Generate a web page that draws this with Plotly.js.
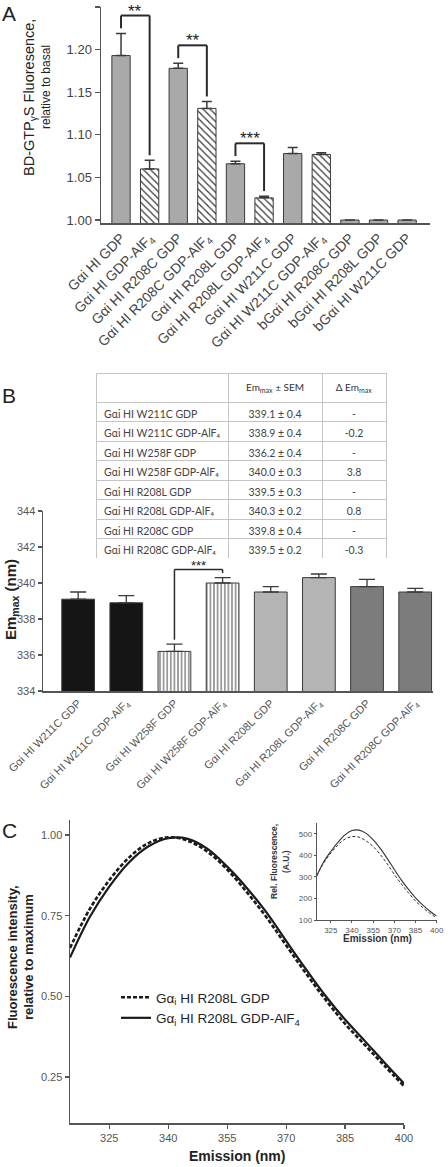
<!DOCTYPE html>
<html><head><meta charset="utf-8">
<script src="https://cdn.plot.ly/plotly-3.0.1.min.js"></script>
<style>html,body{margin:0;padding:0;background:#fff}#chart{width:448px;height:1167px}</style>
</head><body><div id="chart"></div>
<script>
// ---------- Panel A data ----------
const catsA = ['Gαi HI GDP','Gαi HI GDP-AlF<sub>4</sub>','Gαi HI R208C GDP','Gαi HI R208C GDP-AlF<sub>4</sub>',
  'Gαi HI R208L GDP','Gαi HI R208L GDP-AlF<sub>4</sub>','Gαi HI W211C GDP','Gαi HI W211C GDP-AlF<sub>4</sub>',
  'bGαi HI R208C GDP','bGαi HI R208L GDP','bGαi HI W211C GDP'];
const valsA = [1.193,1.060,1.178,1.131,1.066,1.026,1.078,1.077,1.000,1.000,1.000];
const errA  = [0.026,0.010,0.006,0.008,0.003,0.002,0.007,0.002,0,0,0];
const hatchA = [false,true,false,true,false,true,false,true,false,false,false];
const sigA = [[0,1,'**'],[2,3,'**'],[4,5,'***']];
const yTicksA = [1.00,1.05,1.10,1.15,1.20,1.25];

// ---------- Panel B data ----------
const catsB = ['Gαi HI W211C GDP','Gαi HI W211C GDP-AlF<sub>4</sub>','Gαi HI W258F GDP','Gαi HI W258F GDP-AlF<sub>4</sub>',
  'Gαi HI R208L GDP','Gαi HI R208L GDP-AlF<sub>4</sub>','Gαi HI R208C GDP','Gαi HI R208C GDP-AlF<sub>4</sub>'];
const valsB = [339.1,338.9,336.2,340.0,339.5,340.3,339.8,339.5];
const errB  = [0.4,0.4,0.4,0.3,0.3,0.2,0.4,0.2];
const deltaB = ['-','-0.2','-','3.8','-','0.8','-','-0.3'];
const colorsB = ['#151515','#151515','#4a4a4a','#4a4a4a','#b4b4b4','#b4b4b4','#7c7c7c','#7c7c7c'];
const stripeB = [false,false,true,true,false,false,false,false];
const sigB = [[2,3,'***']];
const yTicksB = [334,336,338,340,342,344];

// ---------- Panel C data ----------
const wl = [315,320,325,330,335,340,345,350,355,360,365,370,375,380,385,390,395,400];
const normGDP  = [0.650,0.770,0.860,0.930,0.975,0.993,0.982,0.948,0.893,0.823,0.745,0.658,0.572,0.490,0.415,0.350,0.285,0.222];
const normAlF4 = [0.620,0.745,0.840,0.915,0.965,0.990,0.988,0.957,0.902,0.836,0.760,0.672,0.585,0.502,0.428,0.362,0.295,0.230];
const insetGDP  = [303,365,410,448,475,487,484,467,441,404,360,311,267,226,188,158,132,110];
const insetAlF4 = [305,370,418,460,495,515,517,502,472,432,385,334,285,242,203,170,142,118];
const xTicksC = [325,340,355,370,385,400];
const yTicksC = [0.25,0.50,0.75,1.00];
const yTicksInset = [100,200,300,400,500];

const FONT = 'Arial, "Liberation Sans", sans-serif';
const AX = '#555';
const TXT = '#444';
const W = 448, H = 1167;
const px = v => v / W, py = v => 1 - v / H;

const traces = [];
const shapes = [];
const annotations = [];

// Panel A bars (for patterned bars marker.color is the stripe colour)
traces.push({
  type:'bar', x:catsA, y:valsA, xaxis:'x', yaxis:'y', width:0.64, showlegend:false,
  marker:{
    color: hatchA.map(h => h ? '#3a3a3a' : '#a9a9a9'),
    line:{color:'#3a3a3a', width:1},
    pattern:{shape: hatchA.map(h => h ? '\\' : ''), size:5, solidity:0.25, fillmode:'replace'}
  },
  error_y:{type:'data', symmetric:false, array:errA, arrayminus:errA.map(()=>0), color:'#3a3a3a', thickness:1.5, width:5}
});

// Panel B bars
traces.push({
  type:'bar', x:catsB, y:valsB, xaxis:'x2', yaxis:'y2', width:0.68, showlegend:false,
  marker:{
    color: colorsB,
    line:{color:'#3a3a3a', width:1},
    pattern:{shape: stripeB.map(s => s ? '|' : ''), size:3.6, solidity:0.28, fillmode:'replace'}
  },
  error_y:{type:'data', symmetric:false, array:errB, arrayminus:errB.map(()=>0), color:'#3a3a3a', thickness:1.3, width:8}
});

// Table in panel B (non-breaking spaces, unicode subscript so rows keep one height)
const nb = s => s.replace(/<sub>4<\/sub>/g, '\u2084').replace(/ /g, '\u00a0');
traces.push({
  type:'table',
  domain:{x:[px(96), px(386)], y:[py(558), py(373)]},
  columnwidth:[132,94,64],
  header:{
    values:['', 'Em<sub>max</sub>\u00a0±\u00a0SEM', 'Δ\u00a0Em<sub>max</sub>'],
    align:['left','center','center'], height:16,
    line:{color:'#c4c4c4', width:1}, fill:{color:'#ffffff'},
    font:{family:'Lato, "Open Sans", sans-serif', size:10, color:'#333'}
  },
  cells:{
    values:[catsB.map(nb), valsB.map((v,i)=> nb(v.toFixed(1)+' ± '+errB[i].toFixed(1))), deltaB],
    align:['left','center','center'], height:19.5,
    line:{color:'#c4c4c4', width:1}, fill:{color:'#ffffff'},
    font:{family:'Lato, "Open Sans", sans-serif', size:10.5, color:'#444'}
  }
});

// Panel C main curves
traces.push({type:'scatter', mode:'lines', x:wl, y:normGDP, xaxis:'x3', yaxis:'y3',
  name:'Gα<sub>i</sub> HI R208L GDP', line:{color:'#1a1a1a', width:2.6, dash:'4px,2px', shape:'spline'}});
traces.push({type:'scatter', mode:'lines', x:wl, y:normAlF4, xaxis:'x3', yaxis:'y3',
  name:'Gα<sub>i</sub> HI R208L GDP-AlF<sub>4</sub>', line:{color:'#1a1a1a', width:2.2, shape:'spline'}});
// Inset curves
traces.push({type:'scatter', mode:'lines', x:wl, y:insetGDP, xaxis:'x4', yaxis:'y4', showlegend:false,
  line:{color:'#333', width:1, dash:'3px,2px', shape:'spline'}});
traces.push({type:'scatter', mode:'lines', x:wl, y:insetAlF4, xaxis:'x4', yaxis:'y4', showlegend:false,
  line:{color:'#333', width:1.1, shape:'spline'}});

// significance brackets built from the data
function brackets(xa, ya, vals, errs, comps, off, leg, lw, fs, ys) {
  comps.forEach(([i,j,s]) => {
    const ti = vals[i]+errs[i], tj = vals[j]+errs[j];
    const h = Math.max(ti,tj)+off;
    const ln = {color:'#2a2a2a', width:lw};
    shapes.push({type:'line', xref:xa, yref:ya, x0:i, x1:j, y0:h, y1:h, line:ln});
    shapes.push({type:'line', xref:xa, yref:ya, x0:i, x1:i, y0:ti+leg, y1:h, line:ln});
    shapes.push({type:'line', xref:xa, yref:ya, x0:j, x1:j, y0:tj+leg, y1:h, line:ln});
    annotations.push({xref:xa, yref:ya, x:(i+j)/2, y:h, text:s, showarrow:false, yanchor:'bottom', yshift:ys,
      font:{family:FONT, size:fs, color:'#222'}});
  });
}
brackets('x','y', valsA, errA, sigA, 0.021, 0.006, 2, 17, -7);
brackets('x2','y2', valsB, errB, sigB, 0.45, 0.25, 1.5, 13, -6);

function ann(text, x, y, size, opts={}) {
  annotations.push(Object.assign({xref:'paper', yref:'paper', x:px(x), y:py(y), text, showarrow:false,
    xanchor:'center', yanchor:'middle', font:{family:FONT, size, color:'#222'}}, opts));
}
const bold = (size, color='#222') => ({family:FONT, size, color, weight:'bold'});
// panel letters
ann('A', 9, 13, 21);
ann('B', 9, 395, 21);
ann('C', 9, 830, 21);
// axis titles
ann('BD-GTP<sub>γ</sub>S Fluoresence,', 30, 98, 14.5, {textangle:-90});
ann('relative to basal', 46, 87, 12, {textangle:-90});
ann('Em<sub>max</sub> (nm)', 11, 600, 15, {textangle:-90, font:bold(15)});
ann('Fluorescence intensity,', 12, 957, 13, {textangle:-90, font:bold(13)});
ann('relative to maximum', 28, 957, 13, {textangle:-90, font:bold(13)});
ann('Emission (nm)', 237, 1156, 14, {font:bold(14)});
ann('Rel. Fluorescence,', 274, 862, 8.5, {textangle:-90, font:bold(8.5,'#333')});
ann('(A.U.)', 286, 862, 8.5, {textangle:-90, font:bold(8.5,'#333')});
ann('Emission (nm)', 377, 938, 10, {font:bold(10,'#333')});

const baseAxis = {showgrid:false, zeroline:false, showline:true, linecolor:AX, linewidth:1.5,
  tickfont:{family:FONT, color:TXT}, tickcolor:AX, fixedrange:true};

const layout = {
  width:W, height:H, margin:{l:0,r:0,t:0,b:0}, paper_bgcolor:'#fff', plot_bgcolor:'rgba(0,0,0,0)',
  font:{family:FONT, color:TXT}, bargap:0,
  xaxis: Object.assign({}, baseAxis, {domain:[px(101), px(430)], anchor:'y', type:'category', range:[-0.7,10.8],
    ticks:'', tickangle:-45, tickfont:{family:FONT, size:14, color:TXT}}),
  yaxis: Object.assign({}, baseAxis, {domain:[py(223), py(7)], anchor:'x', range:[0.9965,1.25],
    tickvals:yTicksA, ticktext:yTicksA.map(v=>v.toFixed(2)), ticks:'outside', ticklen:5, tickwidth:1.3,
    tickfont:{family:FONT, size:13, color:TXT}}),
  xaxis2: Object.assign({}, baseAxis, {domain:[px(43), px(433)], anchor:'y2', type:'category', range:[-0.73,7.37],
    ticks:'', tickangle:-45, tickfont:{family:FONT, size:11, color:'#555'}}),
  yaxis2: Object.assign({}, baseAxis, {domain:[py(691), py(511)], anchor:'x2', range:[334,344],
    tickvals:yTicksB, ticks:'outside', ticklen:4, tickwidth:1.2, tickfont:{family:FONT, size:11, color:'#555'}}),
  xaxis3: Object.assign({}, baseAxis, {domain:[px(70), px(404)], anchor:'y3', range:[315,400],
    tickvals:xTicksC, ticks:'outside', ticklen:4, tickwidth:1.2, tickfont:{family:FONT, size:11, color:'#555'}}),
  yaxis3: Object.assign({}, baseAxis, {domain:[py(1123), py(820)], anchor:'x3', range:[0.1075,1.0465],
    tickvals:yTicksC, ticktext:yTicksC.map(v=>v.toFixed(2)), ticks:'outside', ticklen:4, tickwidth:1.2,
    tickfont:{family:FONT, size:11, color:'#555'}}),
  xaxis4: Object.assign({}, baseAxis, {domain:[px(316.7), px(436.7)], anchor:'y4', range:[315,400], linewidth:1,
    tickvals:xTicksC, ticks:'outside', ticklen:2, tickwidth:1, tickfont:{family:FONT, size:8, color:'#555'}}),
  yaxis4: Object.assign({}, baseAxis, {domain:[py(920), py(823)], anchor:'x4', range:[100,550], linewidth:1,
    tickvals:yTicksInset, ticks:'outside', ticklen:2, tickwidth:1, tickfont:{family:FONT, size:8, color:'#555'}}),
  legend:{x:px(116), y:py(982), xanchor:'left', yanchor:'top', bgcolor:'rgba(0,0,0,0)', borderwidth:0,
    font:{family:FONT, size:13.5, color:'#222'}, tracegroupgap:0, itemwidth:30},
  shapes, annotations
};

Plotly.newPlot('chart', traces, layout, {displayModeBar:false, staticPlot:true});
</script>
</body></html>
